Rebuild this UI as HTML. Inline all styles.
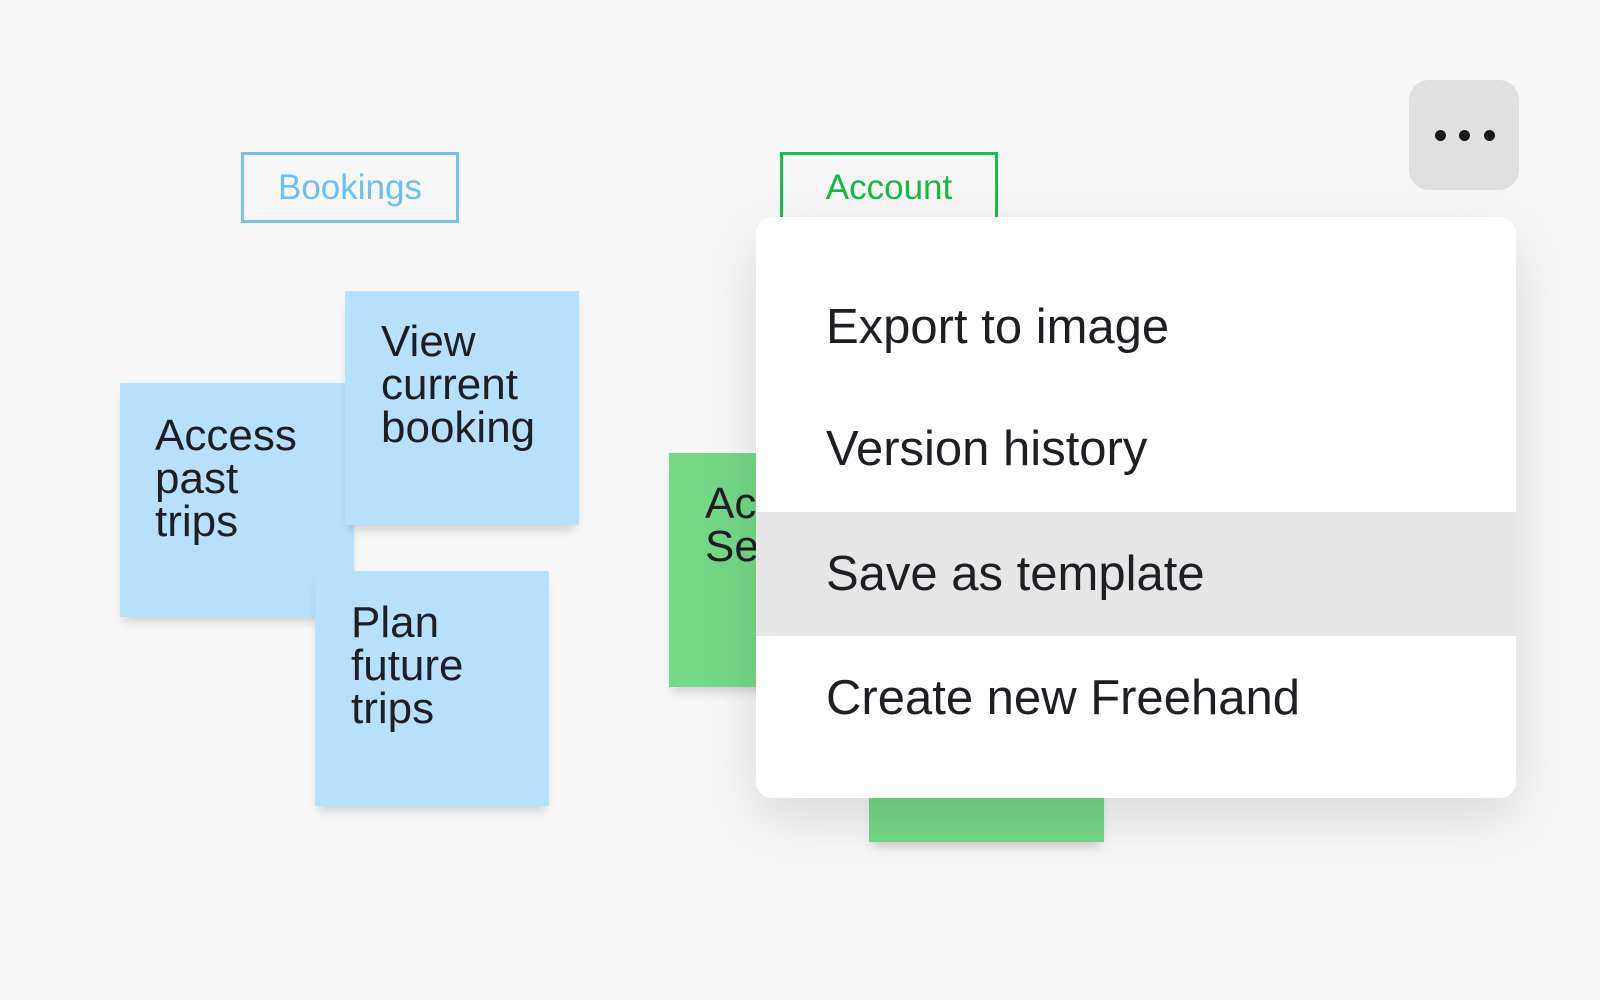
<!DOCTYPE html>
<html><head><meta charset="utf-8"><style>
html,body{margin:0;padding:0}
body{width:1600px;height:1000px;background:#f7f7f7;position:relative;overflow:hidden;font-family:"Liberation Sans",sans-serif}
.a{position:absolute;box-sizing:border-box}
.tag{border:3px solid;font-size:35px;display:flex;align-items:center;justify-content:center;background:#f7f7f7}
.st{background:#b6e0fc;color:#1d1f24;font-size:44px;line-height:43px;box-shadow:0 8px 10px -4px rgba(0,0,0,.18)}
.st div{position:absolute}
.g{background:#74d886;box-shadow:0 8px 10px -4px rgba(0,0,0,.18)}
.dot{position:absolute;width:11px;height:11px;border-radius:50%;background:#1a1a1a;top:130px}
.item{position:absolute;left:0;width:100%;font-size:49px;color:#1d1f24;padding-left:70px;box-sizing:border-box;display:flex;align-items:center}
</style></head><body>
<div class="a tag" style="left:241px;top:152px;width:218px;height:71px;border-color:#72c2f6;color:#6cbff5">Bookings</div>
<div class="a tag" style="left:780px;top:152px;width:218px;height:80px;border-color:#17c048;color:#17b944;align-items:flex-start;padding-top:13px">Account</div>

<div class="a st" style="left:120px;top:383px;width:234px;height:234px"><div style="left:35px;top:31px">Access<br>past<br>trips</div></div>
<div class="a st" style="left:345px;top:291px;width:234px;height:234px"><div style="left:36px;top:29px">View<br>current<br>booking</div></div>
<div class="a st" style="left:315px;top:571px;width:234px;height:235px"><div style="left:36px;top:30px">Plan<br>future<br>trips</div></div>

<div class="a g" style="left:669px;top:453px;width:234px;height:234px"><div class="a" style="left:36px;top:29px;font-size:44px;line-height:43px;color:#1d1f24">Ac<br>Se</div></div>
<div class="a g" style="left:869px;top:700px;width:235px;height:142px"></div>

<div class="a" style="left:1409px;top:80px;width:110px;height:110px;border-radius:20px;background:#e0e0e0">
<div class="dot" style="left:26px;top:50px"></div><div class="dot" style="left:50px;top:50px"></div><div class="dot" style="left:75px;top:50px"></div></div>

<div class="a" style="left:756px;top:217px;width:760px;height:581px;background:#fff;border-radius:16px;box-shadow:0 20px 60px rgba(0,0,0,.12);overflow:hidden">
<div class="item" style="top:80px;height:60px">Export to image</div>
<div class="item" style="top:202px;height:60px">Version history</div>
<div class="item" style="top:295px;height:124px;background:#e6e6e6">Save as template</div>
<div class="item" style="top:451px;height:60px">Create new Freehand</div>
</div>
</body></html>
